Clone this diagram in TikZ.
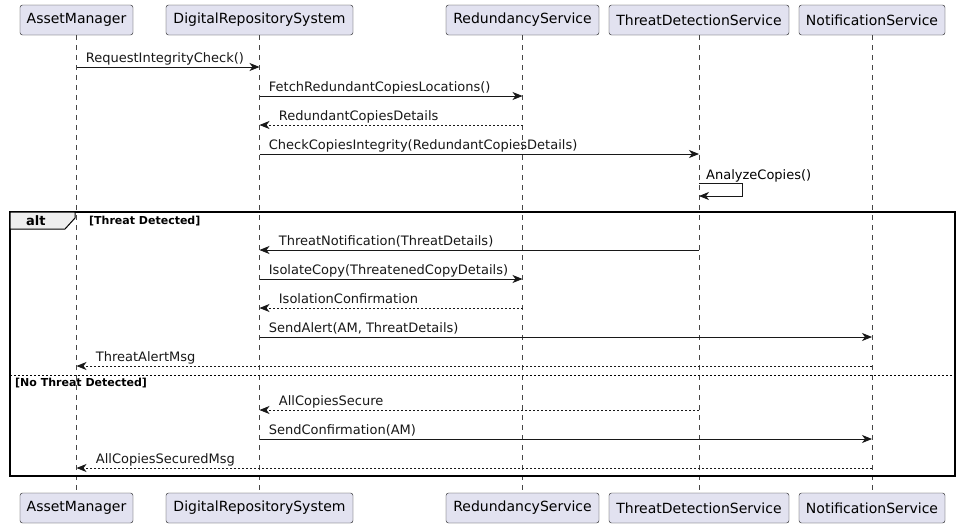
\documentclass[tikz,border=0pt]{standalone}
\usepackage{fontspec}
\setmainfont{DejaVu Sans}
\usetikzlibrary{arrows.meta}

\definecolor{partfill}{HTML}{E2E2F0}
\definecolor{partline}{HTML}{181818}
\definecolor{tabfill}{HTML}{EEEEEE}

\tikzstyle{actor} = [draw=partline, fill=partfill, rounded corners=2.5pt, minimum height=30pt, inner xsep=0pt, font=\fontsize{14}{16}\selectfont]
\tikzstyle{life} = [partline!80, line width=0.5pt, dash pattern=on 5pt off 5pt]
\tikzstyle{msg} = [partline, line width=0.8pt, -{Stealth[length=10pt,width=8pt,inset=3pt]}]
\tikzstyle{ret} = [msg, dash pattern=on 2pt off 2pt]
\tikzstyle{rlbl} = [pos=0, anchor=base west, inner sep=0pt, xshift=9pt, yshift=5pt, font=\fontsize{13}{15}\selectfont]
\tikzstyle{llbl} = [pos=1, anchor=base west, inner sep=0pt, xshift=19pt, yshift=5pt, font=\fontsize{13}{15}\selectfont]
\tikzstyle{guard} = [anchor=base west, inner sep=0pt, font=\bfseries\fontsize{11}{13}\selectfont]

\begin{document}
\begin{tikzpicture}[x=1pt, y=-1pt]
\useasboundingbox[fill=white] (0,0) rectangle (961,528);

% participants, top and bottom
\foreach \n/\x/\w/\t in {am/76.5/113/AssetManager, drs/259.5/187/DigitalRepositorySystem,
  rs/522.5/153/RedundancyService, tds/699/180/ThreatDetectionService, ns/872/146/NotificationService}
{
  \node[actor, minimum width=\w pt] (\n) at (\x,20) {\t};
  \node[actor, minimum width=\w pt] (\n-b) at (\x,508) {\t};
  \draw[life] (\n.south) -- (\n-b.north);
}

% message rows
\coordinate (r1) at (0,67);
\coordinate (r2) at (0,96);
\coordinate (r3) at (0,125);
\coordinate (r4) at (0,154);
\coordinate (r5) at (0,183);
\coordinate (r5b) at (0,196);
\coordinate (r6) at (0,250);
\coordinate (r7) at (0,279);
\coordinate (r8) at (0,308);
\coordinate (r9) at (0,337);
\coordinate (r10) at (0,366);
\coordinate (r11) at (0,410);
\coordinate (r12) at (0,439);
\coordinate (r13) at (0,468);

\draw[msg] (am |- r1) -- (drs |- r1) node[rlbl] {RequestIntegrityCheck()};
\draw[msg] (drs |- r2) -- (rs |- r2) node[rlbl] {FetchRedundantCopiesLocations()};
\draw[ret] (rs |- r3) -- (drs |- r3) node[llbl] {RedundantCopiesDetails};
\draw[msg] (drs |- r4) -- (tds |- r4) node[rlbl] {CheckCopiesIntegrity(RedundantCopiesDetails)};
\draw[msg] (tds |- r5) -- ++(43,0) -- ++(0,13) -- (tds |- r5b);
\node[anchor=base west, inner sep=0pt, font=\fontsize{13}{15}\selectfont] (selflbl)
  at ([xshift=7pt, yshift=4pt]tds |- r5) {AnalyzeCopies()};

% alt frame
\draw[line width=1.5pt] (10,212) rectangle (955,476);
\draw[fill=tabfill, line width=1pt] (10,212) -- (75,212) -- (75,218) -- (65,229) -- (10,229) -- cycle;
\node[anchor=base west, inner sep=0pt, font=\bfseries\fontsize{13}{15}\selectfont] (alt) at (26,225) {alt};
\node[guard] (g1) at (89,224) {[Threat Detected]};
\draw[line width=0.8pt, dash pattern=on 2pt off 2pt] (10,375) -- (955,375);
\node[guard] (g2) at (15,386) {[No Threat Detected]};

\draw[msg] (tds |- r6) -- (drs |- r6) node[llbl] {ThreatNotification(ThreatDetails)};
\draw[msg] (drs |- r7) -- (rs |- r7) node[rlbl] {IsolateCopy(ThreatenedCopyDetails)};
\draw[ret] (rs |- r8) -- (drs |- r8) node[llbl] {IsolationConfirmation};
\draw[msg] (drs |- r9) -- (ns |- r9) node[rlbl] {SendAlert(AM, ThreatDetails)};
\draw[ret] (ns |- r10) -- (am |- r10) node[llbl] {ThreatAlertMsg};

\draw[ret] (tds |- r11) -- (drs |- r11) node[llbl] {AllCopiesSecure};
\draw[msg] (drs |- r12) -- (ns |- r12) node[rlbl] {SendConfirmation(AM)};
\draw[ret] (ns |- r13) -- (am |- r13) node[llbl] {AllCopiesSecuredMsg};
\end{tikzpicture}
\end{document}
